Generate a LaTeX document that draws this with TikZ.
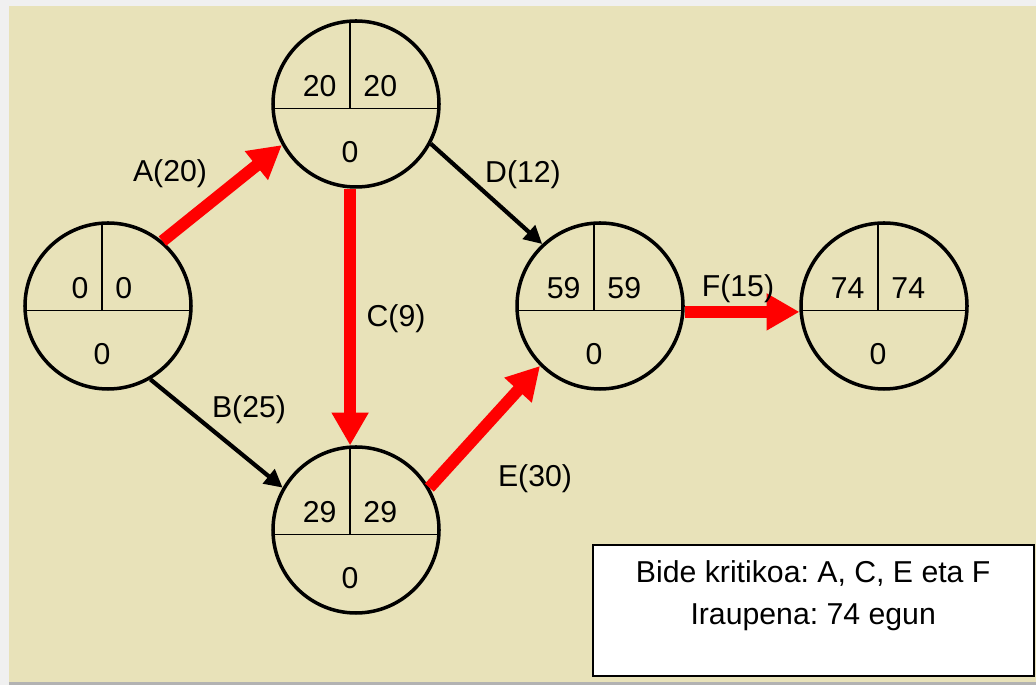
\documentclass[tikz,border=0pt]{standalone}
\usepackage{fontspec}
\setmainfont{Liberation Sans}
\usetikzlibrary{arrows.meta}
\frenchspacing
\tikzstyle{event} = [draw, circle, line width=2.5pt, minimum size=4.15cm, inner sep=0pt]
\tikzstyle{divider} = [line width=0.9pt]
\tikzstyle{early} = [anchor=east, inner sep=0pt, xshift=-0.33cm]
\tikzstyle{late} = [anchor=west, inner sep=0pt, xshift=0.33cm]
\tikzstyle{slack} = [inner sep=0pt]
\tikzstyle{crit} = [red, line width=0.3cm, -{Triangle[length=0.82cm,width=0.87cm]}]
\tikzstyle{act} = [black, line width=3pt, -{Triangle[length=0.45cm,width=0.45cm]}]
\tikzstyle{lbl} = [anchor=base, inner sep=0pt]

\begin{document}
\begin{tikzpicture}[font=\fontsize{21.5}{25}\selectfont]
\definecolor{paper}{RGB}{232,226,185}

\useasboundingbox (0,0) rectangle (25.9,17.125);
\fill[black!6] (0,0) rectangle (25.9,17.125);
\fill[black!30] (0.225,0) rectangle (25.9,0.075);
\fill[paper] (0.225,0.075) rectangle (25.9,16.975);

% events
\node[event] (e_1) at (2.70,9.475) {};
\node[event] (e_2) at (8.90,14.525) {};
\node[event] (e_3) at (8.90,3.875) {};
\node[event] (e_4) at (15.00,9.475) {};
\node[event] (e_5) at (22.10,9.475) {};

\coordinate (c_1) at ([shift={(-0.15,-0.11)}]e_1.center);
\coordinate (c_2) at ([shift={(-0.15,-0.11)}]e_2.center);
\coordinate (c_3) at ([shift={(-0.15,-0.11)}]e_3.center);
\coordinate (c_4) at ([shift={(-0.15,-0.11)}]e_4.center);
\coordinate (c_5) at ([shift={(-0.15,-0.11)}]e_5.center);

\draw[divider] ([xshift=-1.92cm]c_1) -- ([xshift=2.22cm]c_1);
\draw[divider] (c_1) -- ([yshift=2.18cm]c_1);
\draw[divider] ([xshift=-1.92cm]c_2) -- ([xshift=2.22cm]c_2);
\draw[divider] (c_2) -- ([yshift=2.18cm]c_2);
\draw[divider] ([xshift=-1.92cm]c_3) -- ([xshift=2.22cm]c_3);
\draw[divider] (c_3) -- ([yshift=2.18cm]c_3);
\draw[divider] ([xshift=-1.92cm]c_4) -- ([xshift=2.22cm]c_4);
\draw[divider] (c_4) -- ([yshift=2.18cm]c_4);
\draw[divider] ([xshift=-1.92cm]c_5) -- ([xshift=2.22cm]c_5);
\draw[divider] (c_5) -- ([yshift=2.18cm]c_5);

% times
\node[early] (es_1) at ([yshift=0.56cm]c_1) {0};
\node[late] (lf_1) at ([yshift=0.56cm]c_1) {0};
\node[slack] (sl_1) at ([yshift=-1.1cm]c_1) {0};
\node[early] (es_2) at ([yshift=0.56cm]c_2) {20};
\node[late] (lf_2) at ([yshift=0.56cm]c_2) {20};
\node[slack] (sl_2) at ([yshift=-1.1cm]c_2) {0};
\node[early] (es_3) at ([yshift=0.56cm]c_3) {29};
\node[late] (lf_3) at ([yshift=0.56cm]c_3) {29};
\node[slack] (sl_3) at ([yshift=-1.1cm]c_3) {0};
\node[early] (es_4) at ([yshift=0.56cm]c_4) {59};
\node[late] (lf_4) at ([yshift=0.56cm]c_4) {59};
\node[slack] (sl_4) at ([yshift=-1.1cm]c_4) {0};
\node[early] (es_5) at ([yshift=0.56cm]c_5) {74};
\node[late] (lf_5) at ([yshift=0.56cm]c_5) {74};
\node[slack] (sl_5) at ([yshift=-1.1cm]c_5) {0};

% activities
\draw[crit] (e_1.50) -- (e_2.209);
\draw[act] (e_1.-60) -- (e_3.150);
\draw[crit] (e_2.-94) -- (e_3.94);
\draw[act] (e_2.-28) -- (e_4.133);
\draw[crit] (e_3.30) -- (e_4.225);
\draw[crit] (e_4.-4) -- (e_5.184);

\node[lbl] (l_A) at (4.25,12.575) {A(20)};
\node[lbl] (l_B) at (6.225,6.675) {B(25)};
\node[lbl] (l_C) at (9.9,8.95) {C(9)};
\node[lbl] (l_D) at (13.075,12.55) {D(12)};
\node[lbl] (l_E) at (13.375,4.95) {E(30)};
\node[lbl] (l_F) at (18.45,9.7) {F(15)};

% key
\node[draw, fill=white, line width=1.8pt, minimum width=11.025cm, minimum height=3.275cm, inner sep=0pt] (key) at (20.3375,1.8625) {};
\node[lbl] (key_1) at (20.33,2.55) {Bide kritikoa: A, C, E eta F};
\node[lbl] (key_2) at (20.33,1.5) {Iraupena: 74 egun};

\end{tikzpicture}
\end{document}
